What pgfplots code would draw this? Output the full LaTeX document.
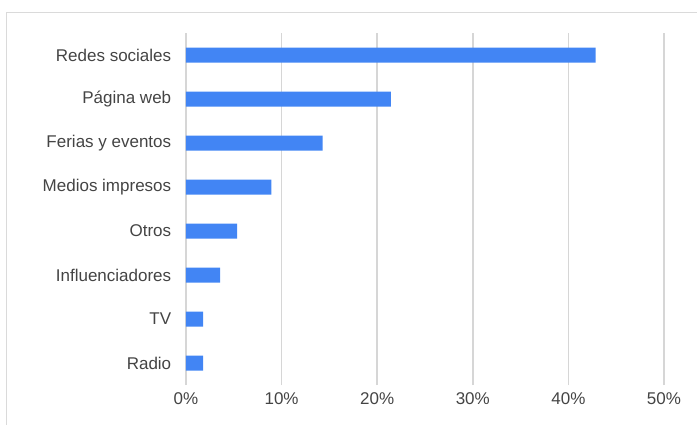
\documentclass[border=0pt]{standalone}
\usepackage{fontspec}
\setmainfont{Liberation Sans}
\usepackage{pgfplots}
\pgfplotsset{compat=1.18}
\definecolor{barblue}{HTML}{4285F4}
\definecolor{gridgray}{HTML}{D6D6D6}
\definecolor{txtgray}{HTML}{444444}
\definecolor{bordergray}{HTML}{DADADA}
\begin{document}
\begin{tikzpicture}[x=1pt,y=1pt]
\useasboundingbox (0,0) rectangle (697,424);
\draw[bordergray,line width=1.2pt] (6.5,-10) -- (6.5,411.5) -- (710,411.5);
\begin{axis}[
  at={(186pt,39pt)}, anchor=south west,
  scale only axis, width=478pt, height=352pt,
  xmin=0, xmax=50, ymin=-0.5, ymax=7.5,
  xbar, bar width=15pt,
  xtick={0,10,20,30,40,50},
  xticklabels={0\%,10\%,20\%,30\%,40\%,50\%},
  ytick={0,1,2,3,4,5,6,7},
  yticklabels={Radio,TV,Influenciadores,Otros,Medios impresos,Ferias y eventos,Página web,Redes sociales},
  xmajorgrids, major grid style={gridgray,line width=1.6pt},
  axis line style={draw=none},
  tick style={draw=none},
  tick label style={font=\fontsize{17}{19}\selectfont, text=txtgray},
  yticklabel style={xshift=-7pt},
  xticklabel style={yshift=-4pt},
]
\addplot[draw=none, fill=barblue] coordinates {
(1.79,0) (1.79,1) (3.57,2) (5.36,3) (8.93,4) (14.29,5) (21.43,6) (42.86,7)
};
\end{axis}
\end{tikzpicture}
\end{document}
